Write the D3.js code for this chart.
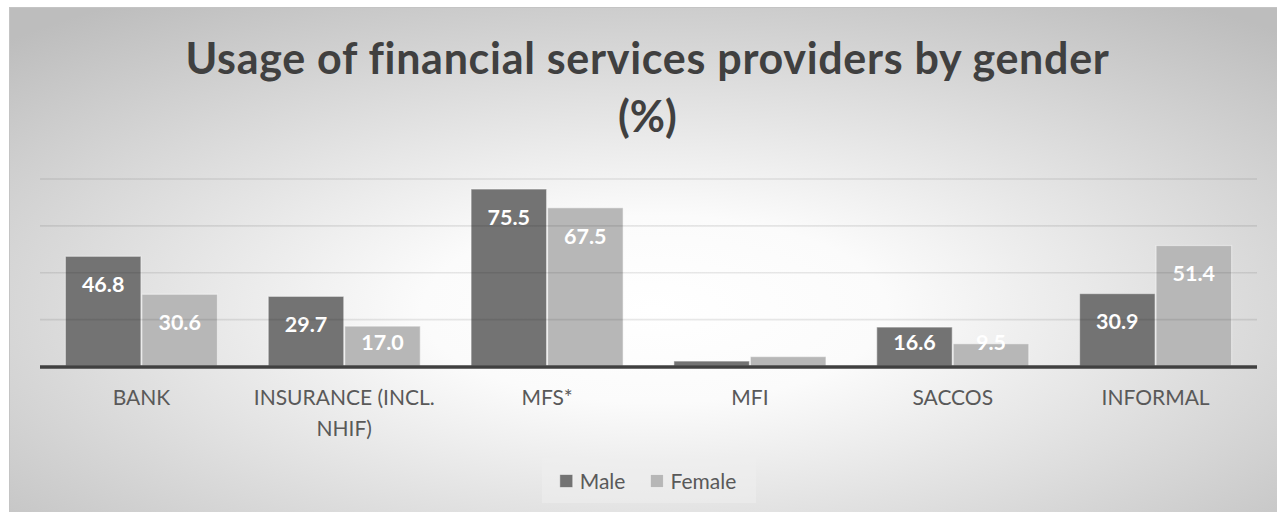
<!DOCTYPE html>
<html>
<head>
<meta charset="utf-8">
<script src="https://cdn.jsdelivr.net/npm/d3@7"></script>
<style>
  html, body { margin: 0; padding: 0; background: #ffffff; }
  svg { display: block; }
  text { font-family: Lato, "Open Sans", sans-serif; }
</style>
</head>
<body>
<svg id="chart" width="1277" height="512"></svg>
<script>
// Chart data
const categories = ["BANK", "INSURANCE (INCL. NHIF)", "MFS*", "MFI", "SACCOS", "INFORMAL"];
const seriesNames = ["Male", "Female"];
const maleValues = [46.8, 29.7, 75.5, 2.1, 16.6, 30.9];
const femaleValues = [30.6, 17.0, 67.5, 4.0, 9.5, 51.4];
const gridTicks = [0, 20, 40, 60, 80];
const titleLines = ["Usage of financial services providers by gender", "(%)"];

const seriesValues = { Male: maleValues, Female: femaleValues };
const colors = { Male: "#737373", Female: "#b7b7b7" };

const svg = d3.select("#chart");
const defs = svg.append("defs");

// Soft radial background of the chart area
const bg = defs.append("radialGradient")
  .attr("id", "bgGrad")
  .attr("cx", 0.5).attr("cy", 0.58).attr("r", 0.72);
bg.append("stop").attr("offset", 0).attr("stop-color", "#ffffff");
bg.append("stop").attr("offset", 0.25).attr("stop-color", "#fbfbfb");
bg.append("stop").attr("offset", 1).attr("stop-color", "#bdbdbd");

svg.append("rect")
  .attr("x", 9.5).attr("y", 7.5)
  .attr("width", 1290).attr("height", 520)
  .attr("fill", "url(#bgGrad)")
  .attr("stroke", "#c4c4c4").attr("stroke-width", 1);

// Plot area
const plot = { left: 40, right: 1257, top: 178.5, bottom: 366 };

const x0 = d3.scaleBand()
  .domain(categories)
  .range([plot.left, plot.right])
  .padding(0);

const x1 = d3.scaleBand()
  .domain(seriesNames)
  .range([0, x0.bandwidth()])
  .paddingInner(0)
  .paddingOuter(0.3255);

const y = d3.scaleLinear()
  .domain([0, 80])
  .range([plot.bottom, plot.top]);

// Title: two centred bold lines, first line tracked to its set width
const titleCx = (plot.left + plot.right) / 2 - 1;
const titleSize = 43;
const title = svg.append("g").attr("class", "title");
const t1 = title.append("text")
  .attr("x", titleCx).attr("y", 74)
  .attr("text-anchor", "middle")
  .attr("font-weight", 700)
  .attr("fill", "#404040")
  .attr("font-size", titleSize)
  .text(titleLines[0]);
const natural = t1.node().getComputedTextLength();
const spacing = (923 - natural) / (titleLines[0].length - 1);
t1.attr("letter-spacing", spacing);
title.append("text")
  .attr("x", titleCx).attr("y", 132)
  .attr("text-anchor", "middle")
  .attr("font-weight", 700)
  .attr("fill", "#404040")
  .attr("font-size", titleSize)
  .text(titleLines[1]);

// Bars
const groups = svg.append("g").attr("class", "bars")
  .selectAll("g")
  .data(categories)
  .join("g")
  .attr("transform", d => `translate(${x0(d)},0)`);

groups.selectAll("rect")
  .data((d, i) => seriesNames.map(s => ({ s, v: seriesValues[s][i] })))
  .join("rect")
  .attr("x", d => x1(d.s) + 0.5)
  .attr("y", d => y(d.v))
  .attr("width", x1.bandwidth() - 1)
  .attr("height", d => y(0) - y(d.v))
  .attr("fill", d => colors[d.s])
  .attr("stroke", "rgba(255,255,255,0.45)")
  .attr("stroke-width", 1.2);

// Gridlines, fading toward the top
const gg = defs.append("linearGradient")
  .attr("id", "gridGrad")
  .attr("gradientUnits", "userSpaceOnUse")
  .attr("x1", 0).attr("x2", 0)
  .attr("y1", y(80)).attr("y2", y(20));
gg.append("stop").attr("offset", 0).attr("stop-color", "#000").attr("stop-opacity", 0.09);
gg.append("stop").attr("offset", 0.5).attr("stop-color", "#000").attr("stop-opacity", 0.26);
gg.append("stop").attr("offset", 1).attr("stop-color", "#000").attr("stop-opacity", 0.36);

const yAxisGrid = d3.axisLeft(y)
  .tickValues(gridTicks.filter(t => t > 0))
  .tickSize(-(plot.right - plot.left))
  .tickFormat("");
const grid = svg.append("g")
  .attr("transform", `translate(${plot.left},0)`)
  .call(yAxisGrid);
grid.select(".domain").remove();
grid.selectAll(".tick line")
  .attr("stroke", "url(#gridGrad)")
  .attr("stroke-width", 1.6);

// Value labels
groups.selectAll("text.val")
  .data((d, i) => seriesNames.map(s => ({ s, v: seriesValues[s][i] })).filter(d => d.v >= 5))
  .join("text")
  .attr("class", "val")
  .attr("x", d => x1(d.s) + x1.bandwidth() / 2)
  .attr("y", d => Math.min(y(d.v) + 28, y(0) - 24))
  .attr("dy", "0.36em")
  .attr("text-anchor", "middle")
  .attr("font-weight", 700)
  .attr("font-size", 21.5)
  .attr("fill", "#ffffff")
  .text(d => d.v.toFixed(1));

// Category axis
const xAxis = d3.axisBottom(x0).tickSize(0).tickPadding(0);
const ax = svg.append("g")
  .attr("transform", `translate(0,${plot.bottom})`)
  .call(xAxis);
ax.select(".domain").remove();
svg.append("line")
  .attr("x1", plot.left).attr("x2", plot.right)
  .attr("y1", plot.bottom + 1).attr("y2", plot.bottom + 1)
  .attr("stroke", "#404040").attr("stroke-width", 3.6);

ax.selectAll(".tick text").each(function(d) {
  const t = d3.select(this);
  t.text(null)
    .attr("font-size", 21)
    .attr("fill", "#595959")
    .attr("font-family", "Lato, sans-serif")
    .attr("y", 0).attr("dy", null);
  // wrap words to the band width
  const words = d.split(/\s+/);
  const maxW = x0.bandwidth() - 6;
  let lines = [], cur = [];
  const probe = t.append("tspan");
  words.forEach(w => {
    const trial = cur.concat([w]).join(" ");
    probe.text(trial);
    if (cur.length && probe.node().getComputedTextLength() > maxW) {
      lines.push(cur.join(" "));
      cur = [w];
    } else cur.push(w);
  });
  lines.push(cur.join(" "));
  probe.remove();
  lines.forEach((ln, i) => {
    t.append("tspan").attr("x", 0).attr("y", 39 + i * 30.5).text(ln);
  });
});

// Legend
const legend = svg.append("g").attr("class", "legend");
legend.append("rect")
  .attr("x", 542).attr("y", 458).attr("width", 214).attr("height", 45)
  .attr("fill", "rgba(238,238,238,0.55)");
const items = legend.selectAll("g.item")
  .data(seriesNames)
  .join("g").attr("class", "item");
items.append("rect")
  .attr("width", 13).attr("height", 13)
  .attr("y", 474.5)
  .attr("fill", d => colors[d])
  .attr("stroke", "rgba(255,255,255,0.5)");
items.append("text")
  .attr("y", 488.5)
  .attr("font-size", 21)
  .attr("fill", "#595959")
  .text(d => d);
// place items in a centred row
let widths = [];
items.each(function() { widths.push(d3.select(this).select("text").node().getComputedTextLength()); });
const gapSq = 7, gapItem = 25;
const total = widths.reduce((a, w) => a + 13 + gapSq + w, 0) + gapItem * (widths.length - 1);
let cx = 648 - total / 2;
items.each(function(d, i) {
  const g = d3.select(this);
  g.select("rect").attr("x", cx);
  g.select("text").attr("x", cx + 13 + gapSq);
  cx += 13 + gapSq + widths[i] + gapItem;
});
</script>
</body>
</html>
